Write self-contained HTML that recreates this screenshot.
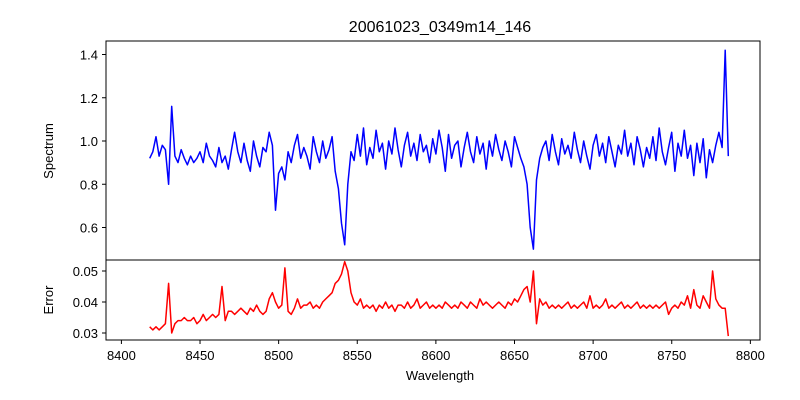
<!DOCTYPE html>
<html><head><meta charset="utf-8"><style>body{margin:0;background:#fff}svg{display:block;font-family:"Liberation Sans","DejaVu Sans",sans-serif}</style></head>
<body>
<svg id="c" width="800" height="400" viewBox="0 0 800 400">
<rect width="800" height="400" fill="#fff"/>
<text x="440" y="32" font-size="16" text-anchor="middle">20061023_0349m14_146</text>
<text transform="translate(53,151) rotate(-90)" font-size="13" text-anchor="middle">Spectrum</text>
<text transform="translate(53,300) rotate(-90)" font-size="13" text-anchor="middle">Error</text>
<text x="440" y="380" font-size="13" text-anchor="middle">Wavelength</text>
<g id="g"></g>
</svg>
<script>
const startWl = 8418, stepWl = 2;
const flux = [0.92,0.95,1.02,0.93,0.98,0.96,0.80,1.16,0.93,0.90,
0.96,0.92,0.89,0.93,0.90,0.92,0.95,0.90,0.99,0.93,
0.91,0.88,0.97,0.90,0.93,0.87,0.96,1.04,0.95,0.90,
0.99,0.91,0.86,1.00,0.93,0.88,0.97,0.95,1.04,0.98,
0.68,0.85,0.88,0.82,0.95,0.90,0.98,1.03,0.92,0.97,
0.93,0.87,1.02,0.95,0.90,1.00,0.92,0.96,1.02,0.86,
0.78,0.62,0.52,0.80,0.95,0.91,1.03,0.93,1.06,0.89,
0.97,0.92,1.05,0.95,0.99,0.87,1.00,0.94,1.06,0.96,
0.88,0.98,1.04,0.93,0.99,0.91,1.03,0.95,0.98,0.90,
1.01,0.94,1.05,0.97,0.86,1.03,0.92,0.98,1.00,0.88,
0.97,1.04,0.95,0.90,1.02,0.94,0.99,0.87,1.00,0.93,
1.03,0.96,0.91,1.00,0.95,0.88,1.02,0.97,0.92,0.88,
0.80,0.60,0.50,0.82,0.92,0.97,1.00,0.91,1.03,0.95,
0.89,1.01,0.94,0.98,0.92,1.04,0.96,0.90,1.00,0.93,
0.87,0.98,1.03,0.93,0.99,0.90,1.02,0.95,0.88,0.98,
0.94,1.05,0.93,0.99,0.89,1.02,0.96,0.88,0.97,0.92,
1.02,0.91,1.06,0.95,0.89,0.97,1.04,0.86,0.99,0.93,
1.05,0.92,0.98,0.84,0.99,0.90,1.01,0.83,0.96,0.90,
0.98,1.04,0.97,1.42,0.93];
const errs = [.032,.031,.032,.031,.032,.033,.046,.030,.033,.034,
.034,.035,.034,.034,.035,.033,.034,.036,.034,.035,
.036,.035,.036,.045,.034,.037,.037,.036,.037,.038,
.037,.036,.038,.037,.039,.037,.036,.037,.041,.043,
.040,.038,.039,.051,.037,.036,.038,.041,.038,.039,
.039,.040,.038,.039,.038,.040,.041,.042,.043,.046,
.047,.049,.053,.050,.043,.040,.039,.041,.038,.039,
.038,.039,.037,.039,.038,.040,.038,.039,.037,.039,
.039,.038,.040,.038,.039,.041,.038,.039,.040,.038,
.039,.038,.039,.038,.040,.039,.038,.039,.038,.040,
.039,.038,.040,.039,.038,.041,.039,.040,.039,.038,
.039,.040,.039,.038,.040,.039,.041,.040,.042,.044,
.045,.040,.050,.033,.041,.039,.040,.038,.039,.038,
.039,.038,.039,.040,.038,.039,.038,.039,.040,.038,
.042,.038,.039,.038,.039,.041,.038,.039,.038,.039,
.040,.038,.039,.038,.039,.040,.038,.039,.038,.039,
.038,.039,.038,.039,.040,.036,.038,.039,.038,.040,
.039,.042,.038,.044,.039,.038,.042,.040,.038,.050,
.041,.039,.038,.038,.029];
const xTicks = [8400,8450,8500,8550,8600,8650,8700,8750,8800];
const fluxTicks = [0.6,0.8,1.0,1.2,1.4];
const errTicks = [0.03,0.04,0.05];

const X = v => 121.4 + (v - 8400) * 1.5724;
const YF = v => 141 - (v - 1) * 216.25;
const YE = v => 302 - (v - 0.04) * 3100;
const NS = 'http://www.w3.org/2000/svg';
const g = document.getElementById('g');
function mk(tag, attrs) { const e = document.createElementNS(NS, tag); for (const k in attrs) e.setAttribute(k, attrs[k]); g.appendChild(e); return e; }

function series(arr, Y, color, name) {
  const d = arr.map((v, i) => (i ? 'L' : 'M') + X(startWl + i * stepWl).toFixed(1) + ',' + Y(v).toFixed(1)).join('');
  const p = mk('path', {d: d, fill: 'none', stroke: color, 'stroke-width': 1.5, 'stroke-linejoin': 'round'});
  
  
}
series(flux, YF, '#0000ff', 'spectrum-line');
series(errs, YE, '#ff0000', 'error-line');

const f1 = mk('rect', {x: 106, y: 41, width: 654, height: 219, fill: 'none', stroke: '#000', 'stroke-width': 1});


const f2 = mk('rect', {x: 106, y: 260, width: 654, height: 80, fill: 'none', stroke: '#000', 'stroke-width': 1});



xTicks.forEach(v => {
  const x = X(v);
  mk('line', {x1: x, x2: x, y1: 340, y2: 344, stroke: '#000'});
  const t = mk('text', {x: x, y: 360, 'font-size': 13, 'text-anchor': 'middle'});
  t.textContent = v;
  
  
});
fluxTicks.forEach(v => {
  const y = YF(v);
  mk('line', {x1: 102, x2: 106, y1: y, y2: y, stroke: '#000'});
  const t = mk('text', {x: 98, y: y + 5, 'font-size': 13, 'text-anchor': 'end'});
  t.textContent = v.toFixed(1);
  
  
});
errTicks.forEach(v => {
  const y = YE(v);
  mk('line', {x1: 102, x2: 106, y1: y, y2: y, stroke: '#000'});
  const t = mk('text', {x: 98, y: y + 5, 'font-size': 13, 'text-anchor': 'end'});
  t.textContent = v.toFixed(2);
  
  
});
</script>
</body></html>
